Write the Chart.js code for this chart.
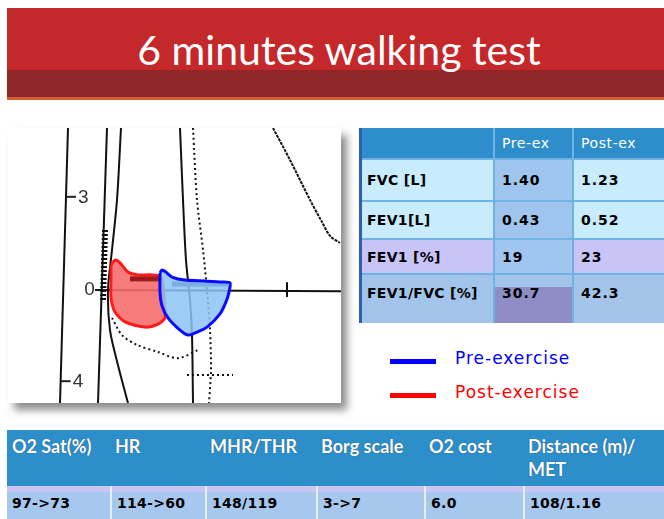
<!DOCTYPE html>
<html>
<head>
<meta charset="utf-8">
<title>6 minutes walking test</title>
<script src="https://cdn.jsdelivr.net/npm/chart.js@4.4.0/dist/chart.umd.min.js"></script>
<style>
  body { margin: 0; width: 664px; height: 519px; overflow: hidden; background: #fff; position: relative; font-family: "DejaVu Sans", sans-serif; }
  .abs { position: absolute; box-sizing: border-box; }
  #bannerTop { left: 7px; top: 8px; width: 657px; height: 62px; background: #c4282b; }
  #bannerBottom { left: 7px; top: 70px; width: 657px; height: 30px; background: #8f2628; border-bottom: 3px solid #d0602f; }
  #title { left: 7px; top: 25px; width: 664px; text-align: center; color: #fff; font: 41px Lato, sans-serif; line-height: 50px; }
  #plotBox { left: 8px; top: 128px; width: 333px; height: 275px; background: #fff; box-shadow: 6px 7px 8px rgba(0,0,0,0.45); }
  .cell { position: absolute; box-sizing: border-box; display: flex; align-items: center; font-weight: bold; font-size: 14px; color: #000; }
  .legLine { position: absolute; left: 390px; width: 46px; height: 5px; }
  .legText { position: absolute; left: 455px; font: 17px "DejaVu Sans", sans-serif; letter-spacing: 1px; }
</style>
</head>
<body>
<div id="bannerTop" class="abs"></div>
<div id="bannerBottom" class="abs"></div>
<div id="title" class="abs">6 minutes walking test</div>

<div id="plotBox" class="abs"><canvas id="flowLoop" width="333" height="275"></canvas></div>

<div id="specTable"></div>

<div class="legLine" style="top:359px;background:#0000ff;"></div>
<div class="legText" style="top:348px;color:#0000ff;">Pre-exercise</div>
<div class="legLine" style="top:393px;background:#ff0000;"></div>
<div class="legText" style="top:382px;color:#ff0000;">Post-exercise</div>

<div id="walkTable"></div>

<script>
// flow-volume loops (volume in L, flow in L/s)
const preVol  = [3.04, 3.08, 3.16, 3.28, 3.54, 3.94, 4.28, 4.44, 4.42, 4.36, 4.24, 3.98, 3.74, 3.60, 3.44, 3.20, 3.08, 3.04, 3.04];
const preFlow = [0.52, 0.62, 0.55, 0.39, 0.29, 0.26, 0.23, 0.20, -0.10, -0.42, -0.81, -1.24, -1.43, -1.50, -1.34, -0.94, -0.55, -0.10, 0.52];
const postVol  = [2.06, 2.14, 2.24, 2.40, 2.60, 2.84, 3.04, 3.10, 3.12, 3.14, 3.00, 2.74, 2.34, 2.14, 2.06, 2.06, 2.06];
const postFlow = [0.78, 0.94, 0.85, 0.55, 0.46, 0.46, 0.42, 0.13, -0.36, -0.94, -1.14, -1.24, -1.07, -0.75, -0.29, 0.29, 0.78];

// background traces of the scanned sheet
const guideLeftVol = [1.20, 1.04];
const guideLeftFlow = [5.24, -3.71];
const guideMidVol = [1.98, 1.80];
const guideMidFlow = [5.24, -3.71];
const curveAVol = [2.26, 2.18, 2.08, 2.00, 2.04, 2.20, 2.40];
const curveAFlow = [5.24, 2.90, 1.27, -0.03, -1.34, -2.48, -3.71];
const curveBVol = [3.44, 3.50, 3.56, 3.64, 3.68, 3.70];
const curveBFlow = [5.24, 2.90, 0.94, -0.36, -1.50, -3.71];
const dotsAVol = [3.70, 3.78, 3.90, 3.98, 4.04, 4.06, 4.02];
const dotsAFlow = [5.24, 2.90, 1.27, -0.03, -1.34, -2.64, -3.71];
const curveCVol = [5.30, 5.64, 6.04, 6.28, 6.44, 6.64];
const curveCFlow = [5.24, 4.20, 2.90, 2.18, 1.73, 1.50];
const zeroLineVol = [1.74, 6.66];
const zeroLineFlow = [-0.03, -0.07];
const zeroTickVol = [5.58, 5.58];
const zeroTickFlow = [0.22, -0.26];
const dotsBVol = [2.08, 2.28, 2.58, 3.00, 3.40, 3.80];
const dotsBFlow = [-0.94, -1.50, -1.82, -2.05, -2.25, -1.99];
const dotsCVol = [3.58, 4.50];
const dotsCFlow = [-2.80, -2.80];
const hatchVol = [1.94, 1.90];
const hatchFlow = [1.92, -0.36];
const postBandVol = [2.44, 3.04];
const postBandFlow = [0.33, 0.33];
const preBandVol = [3.28, 4.40];
const preBandFlow = [0.16, 0.16];

// y tick labels as printed on the sheet
const yTickValues = [3, 0, -3];
const yTickLabels = ["3", "0", "4"];

// spirometry table
const specHeader = ["", "Pre-ex", "Post-ex"];
const specNames = ["FVC [L]", "FEV1[L]", "FEV1 [%]", "FEV1/FVC [%]"];
const specPre = ["1.40", "0.43", "19", "30.7"];
const specPost = ["1.23", "0.52", "23", "42.3"];

// walking test table
const walkHeader = ["O2 Sat(%)", "HR", "MHR/THR", "Borg scale", "O2 cost", "Distance (m)/\nMET"];
const walkValues = ["97->73", "114->60", "148/119", "3->7", "6.0", "108/1.16"];

function pts(xs, ys) {
  return xs.map(function (x, i) { return { x: x, y: ys[i] }; });
}

function trace(xs, ys, opts) {
  return Object.assign({
    data: pts(xs, ys),
    showLine: true,
    pointRadius: 0,
    borderColor: "#111",
    borderWidth: 2,
    fill: false,
    order: 2,
  }, opts || {});
}

document.addEventListener("DOMContentLoaded", function () {
  // tick marks + labels next to the left guide line
  const sheetTicks = {
    id: "sheetTicks",
    afterDatasetsDraw: function (chart) {
      const ctx = chart.ctx;
      const xs = chart.scales.x, ys = chart.scales.y;
      ctx.save();
      ctx.strokeStyle = "#222";
      ctx.lineWidth = 2;
      ctx.fillStyle = "#333";
      ctx.font = "19px 'Liberation Sans', sans-serif";
      ctx.textBaseline = "middle";
      yTickValues.forEach(function (v, i) {
        const t = (guideLeftFlow[0] - v) / (guideLeftFlow[0] - guideLeftFlow[1]);
        const gx = xs.getPixelForValue(guideLeftVol[0] + t * (guideLeftVol[1] - guideLeftVol[0]));
        const py = ys.getPixelForValue(v);
        if (yTickLabels[i] !== "0") {
          ctx.beginPath();
          ctx.moveTo(gx, py);
          ctx.lineTo(gx + 10, py);
          ctx.stroke();
          ctx.fillText(yTickLabels[i], gx + 12, py + 1);
        } else {
          ctx.fillText(yTickLabels[i], gx + 21, py + 1);
        }
      });
      ctx.restore();
    },
  };

  const loopCanvas = document.getElementById("flowLoop");
  new Chart(loopCanvas, {
    type: "scatter",
    data: {
      datasets: [
        trace(preVol, preFlow, { borderColor: "#0a0aff", borderWidth: 3, backgroundColor: "rgba(140,195,245,0.85)", fill: "shape", tension: 0.25, order: 0 }),
        trace(postVol, postFlow, { borderColor: "#ff1a1a", borderWidth: 3, backgroundColor: "rgba(245,110,110,0.9)", fill: "shape", tension: 0.25, order: 1 }),
        trace(preBandVol, preBandFlow, { borderColor: "#17406e", borderWidth: 5, order: 0 }),
        trace(postBandVol, postBandFlow, { borderColor: "#9c1a1a", borderWidth: 5, order: 0 }),
        trace(guideLeftVol, guideLeftFlow),
        trace(guideMidVol, guideMidFlow),
        trace(curveAVol, curveAFlow, { tension: 0.3 }),
        trace(curveBVol, curveBFlow, { tension: 0.3 }),
        trace(dotsAVol, dotsAFlow, { borderDash: [2, 3], tension: 0.3 }),
        trace(curveCVol, curveCFlow, { borderDash: [3, 1], tension: 0.3 }),
        trace(zeroLineVol, zeroLineFlow),
        trace(zeroTickVol, zeroTickFlow),
        trace(dotsBVol, dotsBFlow, { borderDash: [2, 3], tension: 0.3 }),
        trace(dotsCVol, dotsCFlow, { borderDash: [2, 3] }),
        trace(hatchVol, hatchFlow, { borderDash: [2, 2], borderWidth: 6 }),
      ],
    },
    options: {
      responsive: false,
      animation: false,
      layout: { padding: 0 },
      plugins: { legend: { display: false }, tooltip: { enabled: false } },
      scales: {
        x: { type: "linear", min: 0, max: 6.66, display: false },
        y: { type: "linear", min: -3.71, max: 5.24, display: false },
      },
    },
    plugins: [sheetTicks],
  });

  // spirometry table on the right
  const spec = document.getElementById("specTable");
  const sColX = [360, 493, 572], sColW = [133, 79, 92];
  const sRowY = [128, 158, 200, 238, 273], sRowH = [30, 42, 38, 35, 50];
  const sFill = [
    ["#2e8ecb", "#2e8ecb", "#2e8ecb"],
    ["#c8ecfc", "#9fc5ee", "#c8ecfc"],
    ["#c8ecfc", "#9fc5ee", "#c8ecfc"],
    ["#c8c4f8", "#a0c5ee", "#c8c4f8"],
    ["#a2c4ea", "#a2c4ea", "#a3c5ea"],
  ];
  for (let r = 0; r < 5; r++) {
    const row = r === 0 ? specHeader : [specNames[r - 1], specPre[r - 1], specPost[r - 1]];
    for (let c = 0; c < 3; c++) {
      const d = document.createElement("div");
      d.className = "cell";
      d.style.left = sColX[c] + "px";
      d.style.top = sRowY[r] + "px";
      d.style.width = sColW[c] + "px";
      d.style.height = sRowH[r] + "px";
      d.style.background = sFill[r][c];
      d.style.paddingLeft = (c === 0 ? 7 : 7) + "px";
      d.style.letterSpacing = c === 0 ? "0.3px" : "1px";
      if (r > 0) d.style.borderTop = "2px solid #6fb3e4";
      if (c > 0) d.style.borderLeft = "2px solid #6fb3e4";
      if (r === 0) { d.style.color = "#fff"; d.style.fontWeight = "normal"; d.style.fontSize = "14px"; d.style.letterSpacing = "0.6px"; }
      if (r === 4) { d.style.alignItems = "flex-start"; d.style.paddingTop = "10px"; }
      if (r === 4 && c === 1) d.style.background = "linear-gradient(#a2c4ea 0, #a2c4ea 12px, #8f8dc5 12px)";
      d.textContent = row[c];
      spec.appendChild(d);
    }
  }
  const edge = document.createElement("div");
  edge.className = "abs";
  edge.style.cssText = "left:359px;top:128px;width:3px;height:195px;background:#2a5fb8;";
  spec.appendChild(edge);

  // walking test table at the bottom
  const walk = document.getElementById("walkTable");
  const wColX = [7, 110, 205, 316, 424, 523, 664];
  for (let c = 0; c < 6; c++) {
    const h = document.createElement("div");
    h.className = "cell";
    h.style.cssText += "left:" + wColX[c] + "px;top:430px;width:" + (wColX[c + 1] - wColX[c]) + "px;height:56px;background:#2d8fca;color:#fff;align-items:flex-start;padding:5px 0 0 5px;white-space:pre-line;font:bold 18px Lato,sans-serif;line-height:23px;text-shadow:0 0 1px #1a3d5c;";
    h.textContent = walkHeader[c];
    walk.appendChild(h);

    const v = document.createElement("div");
    v.className = "cell";
    v.style.cssText += "left:" + wColX[c] + "px;top:486px;width:" + (wColX[c + 1] - wColX[c]) + "px;height:33px;background:linear-gradient(#c9c6f6 0, #c9c6f6 6px, #a6c7ee 6px);padding-left:5px;font-size:14px;letter-spacing:0.3px;" + (c > 0 ? "border-left:2px solid #e6eefa;" : "");
    v.textContent = walkValues[c];
    walk.appendChild(v);
  }
});
</script>
</body>
</html>
